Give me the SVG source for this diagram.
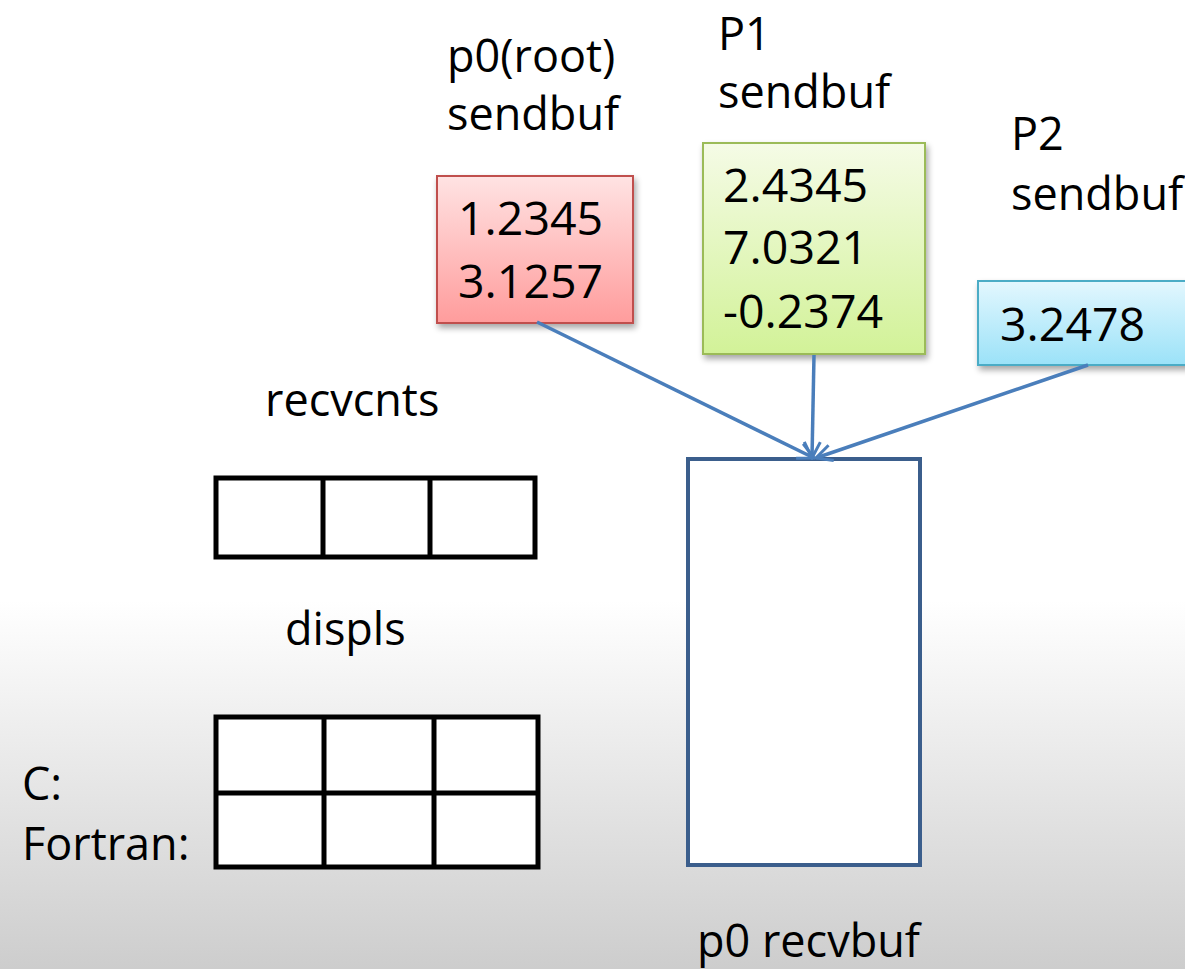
<svg xmlns="http://www.w3.org/2000/svg" width="1185" height="969" viewBox="0 0 1185 969">
<defs>
<linearGradient id="bg" x1="0" y1="0" x2="0" y2="1">
<stop offset="0" stop-color="#ffffff"/>
<stop offset="0.62" stop-color="#ffffff"/>
<stop offset="1" stop-color="#cdcdcd"/>
</linearGradient>
<linearGradient id="gRed" x1="0" y1="0" x2="0" y2="1">
<stop offset="0" stop-color="#ffe3e3"/>
<stop offset="1" stop-color="#ff9c9c"/>
</linearGradient>
<linearGradient id="gGreen" x1="0" y1="0" x2="0" y2="1">
<stop offset="0" stop-color="#f5fbe6"/>
<stop offset="1" stop-color="#d2f298"/>
</linearGradient>
<linearGradient id="gBlue" x1="0" y1="0" x2="0" y2="1">
<stop offset="0" stop-color="#e3f7fe"/>
<stop offset="1" stop-color="#9be2f8"/>
</linearGradient>
<filter id="sh" x="-10%" y="-10%" width="130%" height="130%">
<feGaussianBlur in="SourceAlpha" stdDeviation="3"/>
<feOffset dx="2" dy="4"/>
<feComponentTransfer><feFuncA type="linear" slope="0.35"/></feComponentTransfer>
<feMerge><feMergeNode/><feMergeNode in="SourceGraphic"/></feMerge>
</filter>
<marker id="arr" viewBox="0 0 20 20" refX="18" refY="10" markerWidth="20" markerHeight="20" markerUnits="userSpaceOnUse" orient="auto">
<path d="M2,2 L18,10 L2,18" fill="none" stroke="#4a7ebb" stroke-width="3"/>
</marker>
</defs>
<style>
text{font-family:"Open Sans","Noto Sans","Liberation Sans",sans-serif;font-size:45px;fill:#000}
.num{font-size:46.5px}
.cell{fill:#ffffff;stroke:#000;stroke-width:5}
.conn{stroke:#4a7ebb;stroke-width:3.5;fill:none;marker-end:url(#arr)}
</style>
<rect x="0" y="0" width="1185" height="969" fill="url(#bg)"/>

<g id="label-p0">
<text x="447" y="72">p0(root)</text>
<text x="447" y="130">sendbuf</text>
</g>
<g id="label-p1">
<text x="718" y="50">P1</text>
<text x="718" y="108">sendbuf</text>
</g>
<g id="label-p2">
<text x="1011" y="150">P2</text>
<text x="1011" y="210">sendbuf</text>
</g>

<g id="p0-sendbuf">
<rect x="437" y="176" width="196" height="147" fill="url(#gRed)" stroke="#c0504d" stroke-width="2" filter="url(#sh)"/>
<text class="num" x="458" y="235">1.2345</text>
<text class="num" x="458" y="298">3.1257</text>
</g>
<g id="p1-sendbuf">
<rect x="703" y="143" width="222" height="211" fill="url(#gGreen)" stroke="#9bbb59" stroke-width="2" filter="url(#sh)"/>
<text class="num" x="723" y="202">2.4345</text>
<text class="num" x="723" y="264">7.0321</text>
<text class="num" x="723" y="328">-0.2374</text>
</g>
<g id="p2-sendbuf">
<rect x="978" y="281" width="220" height="84" fill="url(#gBlue)" stroke="#4bacc6" stroke-width="2" filter="url(#sh)"/>
<text class="num" x="1000" y="341">3.2478</text>
</g>

<g id="recvcnts">
<text x="265" y="416">recvcnts</text>
<rect class="cell" x="216" y="478" width="319" height="79"/>
<line x1="323" y1="478" x2="323" y2="557" stroke="#000" stroke-width="5"/>
<line x1="430" y1="478" x2="430" y2="557" stroke="#000" stroke-width="5"/>
</g>

<g id="displs">
<text x="285" y="645">displs</text>
<rect class="cell" x="216" y="717" width="322" height="150"/>
<line x1="216" y1="793" x2="538" y2="793" stroke="#000" stroke-width="5"/>
<line x1="324" y1="717" x2="324" y2="867" stroke="#000" stroke-width="5"/>
<line x1="434" y1="717" x2="434" y2="867" stroke="#000" stroke-width="5"/>
<text x="22" y="800">C:</text>
<text x="22" y="860">Fortran:</text>
</g>

<g id="p0-recvbuf">
<rect x="688" y="459" width="232" height="406" fill="#ffffff" stroke="#3b5e8c" stroke-width="4"/>
<text x="697" y="957">p0 recvbuf</text>
</g>

<g id="connectors">
<line class="conn" x1="537" y1="322" x2="814" y2="458"/>
<line class="conn" x1="814" y1="355" x2="812" y2="458"/>
<line class="conn" x1="1088" y1="365" x2="816" y2="458"/>
</g>
</svg>
